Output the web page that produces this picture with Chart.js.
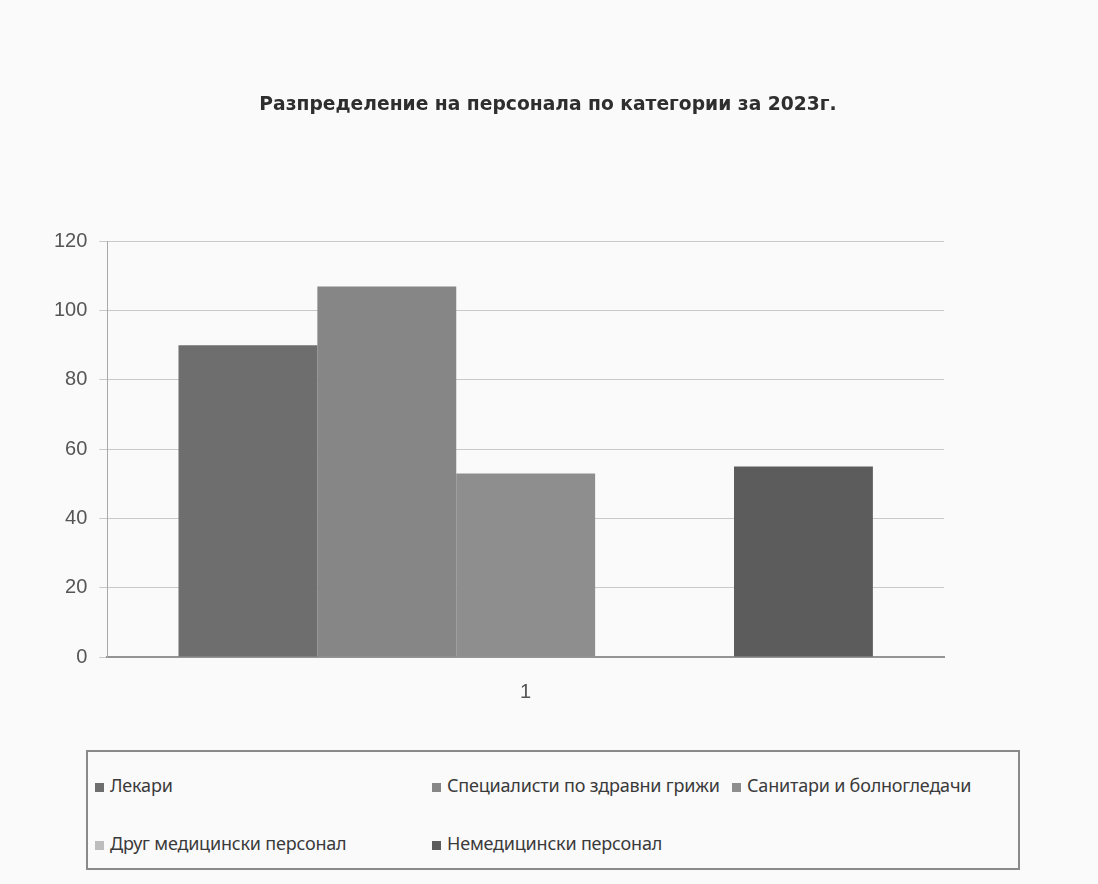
<!DOCTYPE html>
<html>
<head>
<meta charset="utf-8">
<script src="https://cdn.jsdelivr.net/npm/chart.js@4"></script>
<style>
  body { margin: 0; background: #fafafa; }
  #wrap { position: relative; width: 1098px; height: 884px; }
  #chartBox { position: absolute; left: 0; top: 0; width: 1098px; height: 740px; }
  #legend {
    position: absolute; left: 86px; top: 750px; width: 930px; height: 112px; padding-top: 4px;
    border: 2px solid #8a8a8a; font-family: "Noto Sans", sans-serif; font-size: 18px; color: #3a3a3a;
    display: grid; grid-template-columns: 337px 300px auto; grid-template-rows: 58px 58px;
    align-items: center; letter-spacing: -0.2px; white-space: nowrap;
  }
  #legend span.box { display: inline-block; width: 9px; height: 9px; margin: 0 6px 0 7px; }
</style>
</head>
<body>
<div id="wrap">
  <div id="chartBox"><canvas id="myChart"></canvas></div>
  <div id="legend"></div>
</div>
<script>
var categories = ['1'];
var seriesNames = [
  'Лекари',
  'Специалисти по здравни грижи',
  'Санитари и болногледачи',
  'Друг медицински персонал',
  'Немедицински персонал'
];
var seriesValues = [90, 107, 53, 0, 55];
var seriesColors = ['#6e6e6e', '#868686', '#8e8e8e', '#bdbdbd', '#5c5c5c'];
var yTicks = [0, 20, 40, 60, 80, 100, 120];

var datasets = seriesNames.map(function (name, i) {
  return {
    label: name,
    data: [seriesValues[i]],
    backgroundColor: seriesColors[i],
    categoryPercentage: 0.83,
    barPercentage: 1.0
  };
});

var tickFont = { family: 'Liberation Sans', size: 20 };

var ctx = document.getElementById('myChart').getContext('2d');
var myChart = new Chart(ctx, {
  type: 'bar',
  data: { labels: categories, datasets: datasets },
  options: {
    responsive: true,
    maintainAspectRatio: false,
    animation: false,
    layout: { padding: { left: 42, right: 44, top: 0, bottom: 13 } },
    scales: {
      x: {
        grid: { display: false, drawTicks: false },
        border: { color: '#949494', width: 2 },
        ticks: { padding: 23, color: '#555', font: tickFont }
      },
      y: {
        min: 0, max: 120,
        afterBuildTicks: function (axis) {
          axis.ticks = yTicks.map(function (v) { return { value: v }; });
        },
        grid: { color: '#c9c9c9', tickLength: 8 },
        border: { color: '#a8a8a8' },
        ticks: { padding: 12, color: '#555', font: tickFont }
      },
      // empty space right of the plot, keeps the title centred on the page
      yRight: {
        position: 'right',
        grid: { display: false },
        border: { display: false },
        ticks: { display: false },
        afterFit: function (axis) { axis.width = 110; }
      }
    },
    plugins: {
      legend: { display: false },
      tooltip: { enabled: false },
      title: {
        display: true,
        text: 'Разпределение на персонала по категории за 2023г.',
        color: '#2e2e2e',
        font: { family: 'DejaVu Sans', size: 18.7, weight: 'bold' },
        padding: { top: 94, bottom: 125 }
      }
    }
  }
});

var legendEl = document.getElementById('legend');
seriesNames.forEach(function (name, i) {
  var item = document.createElement('div');
  item.innerHTML = '<span class="box" style="background:' + seriesColors[i] + '"></span>' + name;
  legendEl.appendChild(item);
});
// second row starts after third item
legendEl.children[3].style.gridColumn = '1';
</script>
</body>
</html>
